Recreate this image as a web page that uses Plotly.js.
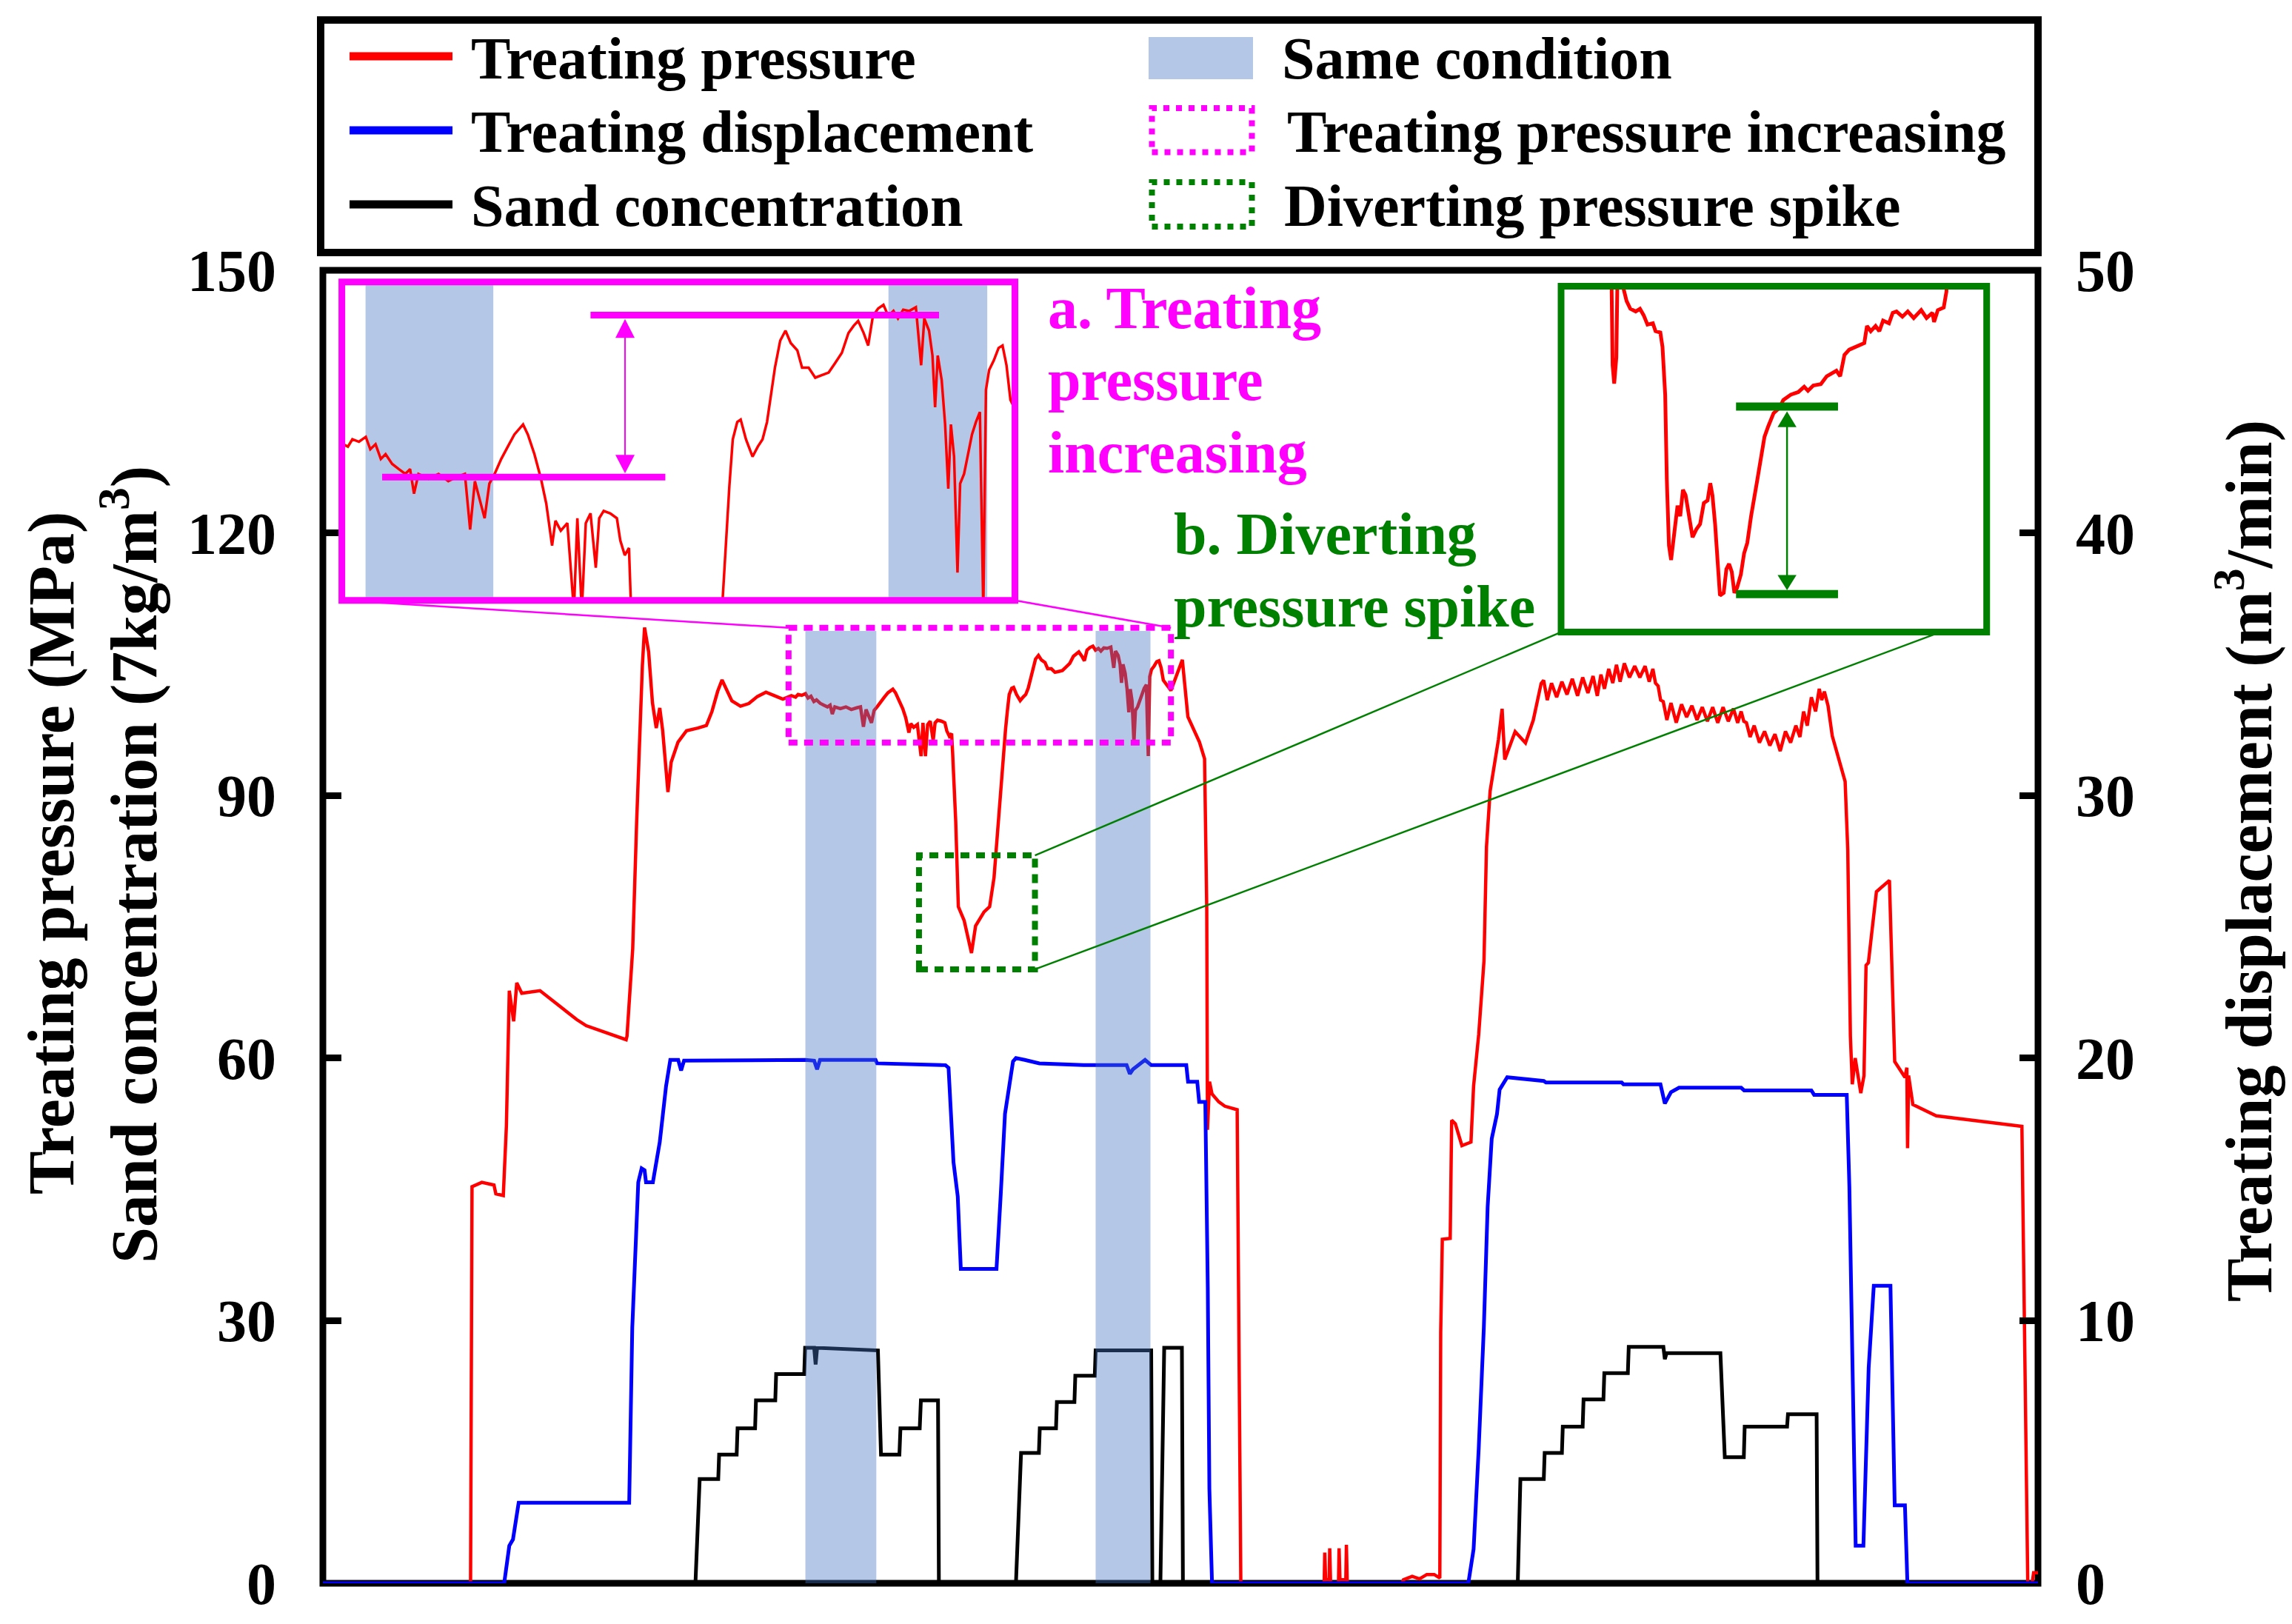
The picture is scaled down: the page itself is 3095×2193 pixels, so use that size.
<!DOCTYPE html>
<html>
<head>
<meta charset="utf-8">
<script src="https://cdn.plot.ly/plotly-3.0.1.min.js"></script>
<style>html,body{margin:0;padding:0;background:#fff;}#chart{width:3095px;height:2193px;}</style>
</head>
<body>
<div id="chart"></div>
<script>
// ---------------- DATA ----------------
// time axis is an arbitrary index (no labels in the original)
const pressureSeries = [ // [time, treating pressure MPa]
[0,0],[101,0],[102,45.3],[108.7,45.8],[117,45.5],[118.3,44.5],[123.4,44.3],[125.5,52.2],[127.5,67.7],[130.5,64.2],[132.6,68.6],[136,67.4],[148.5,67.7],[159,66.3],[173.6,64.4],[180.1,63.7],[207.4,62.1],[208,62.5],[211.9,72.5],[214.6,87],[216.5,96.7],[218.5,104.8],[220,109.2],[222.8,106.4],[225.4,100.6],[228,97.7],[230.4,100],[232.4,97.4],[236,90.4],[238.2,93.8],[242.9,96.1],[248.7,97.4],[256.5,97.7],[262.3,98],[266.1,99.6],[270,101.9],[273,103.2],[276.6,101.9],[279.7,100.8],[285.6,100.2],[291.3,100.5],[297.1,101.3],[303,101.8],[308.8,101.4],[314.6,101],[320.4,101.4],
[323.3,101.24],[325.0,101.54],[327.5,101.44],[330.1,101.64],[331.8,101.13],[333.8,101.34],[335.8,100.73],[337.6,100.93],[340.1,100.53],[342.6,100.32],[345.1,100.12],[346.9,100.32],[348.4,99.31],[350.1,100.12],[353.9,99.92],[357.7,100.12],[361.4,99.82],[365.2,100.02],[367.7,100.12],[369.7,97.84],[371.5,99.82],[375.2,98.3],[377.0,99.72],[379.0,100.12],[381.5,100.73],[384.0,101.24],[386.5,101.74],[389.8,102.15],[391.6,101.74],[394.1,100.93],[396.6,99.92],[398.6,98.9],[400.8,97.18],[402.1,98.2],[404.1,97.79],[406.6,98.1],[409.1,94.5],[410.4,98.3],[412.1,94.5],[413.6,98.1],[415.4,98.5],[417.4,96.27],[418.7,98.3],[420.4,98.6],[422.9,98.5],[425.4,98.3],[426.7,97.39],[428.4,96.78],[430.0,97.08],[430.7,94.85],
[432.8,87.1],[434.6,77.3],[438.6,75.7],[443.6,72],[446.4,75.1],[452.2,76.7],[456,77.3],[459,80.6],[462,87.1],[464.6,93.5],
[465.6,95.06],[466.9,97.59],[468.1,99.61],[469.4,101.54],[471.1,102.25],[472.4,102.35],[474.4,101.54],[476.9,100.83],[478.9,101.24],[480.7,101.54],[482.4,102.25],[483.9,103.36],[485.4,104.48],[487.4,105.59],[489.4,106.0],[491.4,105.49],[493.9,105.19],[495.7,104.48],[498.2,104.48],[500.7,104.07],[503.2,104.17],[505.8,104.28],[508.3,104.68],[510.8,105.09],[513.3,105.9],[515.3,106.2],[517.0,106.4],[519.1,105.9],[520.8,105.39],[522.6,106.61],[524.6,106.91],[526.6,107.06],[528.4,106.61],[530.4,106.81],[532.1,106.5],[534.1,106.86],[536.4,106.81],[538.9,106.96],[540.9,104.58],[542.1,106.5],[543.9,106.0],[545.2,104.98],[546.2,102.86],[547.2,104.98],[548.7,103.97],[550.0,102.15],[551.2,99.51],[552.2,102.15],[553.4,100.83],[554.7,96.07],[555.7,99.72],[557.2,100.12],[558.7,100.93],[560.2,101.74],[561.7,102.25],[563.2,102.66],[564.5,94.5],[565.5,103.57],[566.7,104.38],[568.5,104.78],[570.3,105.29],[571.8,105.39],[573.3,104.58],[574.8,103.16],
[580,102],[587.8,105.5],[591.6,99],[599.5,96.1],[603,94.2],[604.5,77],[605,51.8],[606.4,57.3],[608.1,55.9],[612.7,55],[616.9,54.5],[625.3,54.1],[627.8,0],
[684.8,0],[685.2,3.5],[685.8,0.4],[688.2,0.4],[688.6,4.0],[689.2,0],[694.6,0],[695,4.0],[695.6,0.4],[699.6,0.4],[700,4.4],[700.6,0],
[738,0],[739,0.4],[745,0.8],[750,0.5],[755,1.0],[760,1.0],[763.9,0.6],[764.5,28.7],[765.6,39.3],[771,39.4],[772,52.9],[774.5,52.5],[779,50],[785.2,50.4],[787,56.8],
[790.5,62.7],[794.1,71.1],[795.8,84.1],[798.3,90.5],[801.2,93.8],[804,96.4],[806.5,99.9],[808.3,94.1],[815.4,97.3],[822.5,96.0],[827.8,98.6],[833.2,102.8],
[834.9,103.16],[837.4,100.9],[840.3,102.84],[843.8,101.22],[847.4,103.0],[850.9,101.54],[854.5,103.32],[858.1,101.38],[861.6,103.49],[865.2,101.71],[868.7,103.65],[871.6,101.38],[874.1,103.81],[876.5,102.19],[879.4,104.46],[882.2,102.84],[884.7,104.94],[887.2,103.0],[890.1,105.1],[893.6,103.49],[897.2,104.78],[900.7,103.49],[904.3,104.78],[907.1,103.0],[909.6,104.46],[911.4,102.84],[913.2,102.51],[914.9,100.9],[916.7,100.73],[919.2,98.63],[922.0,100.57],[925.6,98.31],[929.2,100.41],[932.7,98.95],[936.3,100.25],[939.8,98.63],[943.4,100.09],[946.9,98.47],[950.5,100.09],[954.0,98.31],[957.6,100.09],[961.2,98.47],[964.7,99.92],[967.6,98.31],[970.0,99.6],[971.8,98.47],[973.6,98.31],[976.1,96.69],[978.9,97.98],[982.5,96.04],[986.0,97.33],[989.6,95.71],[993.1,97.01],[996.7,95.07],[1000.3,97.33],[1003.8,96.04],[1007.4,97.98],[1010.2,96.69],[1012.7,99.6],[1015.2,97.98],[1018.0,101.22],[1020.9,99.6],[1023.4,102.19],[1025.1,100.9],[1026.9,101.87],[1029.4,100.25],
[1032.3,96.8],[1037.6,93.5],[1041.1,91.6],[1042.9,83.8],[1044.7,62.5],[1046,57],[1048,60],[1051.8,56],[1054,58],[1055.4,70.6],[1057,70.9],[1062.5,79],[1071.4,80.3],[1073,70.9],[1075,59.6],[1082,57.8],[1083.3,58.9],[1083.8,49.7],[1084.5,58],[1087.4,54.7],[1103.4,53.4],[1162,52.2],[1166,0],[1169,0],[1170,1.2],[1173,1.2]
];

const displacementSeries = [ // [time, treating displacement m3/min]
[0,0],[124,0],[127.5,1.43],[130,1.67],[133.9,3.07],[209.5,3.07],[211.6,9.73],[215.7,15.27],[218,15.8],[220,15.73],[221,15.27],[225.7,15.27],[230.4,16.8],[234.7,18.93],[237.6,19.93],[243,19.93],[245,19.53],[247,19.9],[330,19.93],[336,19.9],[338,19.57],[340,19.93],[378,19.93],[379,19.8],[425.8,19.73],[427.9,19.63],[431.3,16.03],[434.2,14.73],[436.3,11.97],[460.7,11.97],[463.6,14.8],[466.5,17.87],[472,19.87],[474,20],[480,19.93],[490,19.8],[520.3,19.73],[549.7,19.73],[551.9,19.4],[554,19.57],[562.3,19.93],[566.5,19.73],[590.5,19.73],[591.7,19.1],[598,19.1],[599.3,18.33],[603.5,18.33],[605.2,11.27],[606.3,3.6],[608.1,0],
[783.4,0],[787,1.3],[790.5,5.13],[794,9.73],[796.6,14.33],[799.4,16.93],[803,17.87],[804.8,18.8],[810,19.27],[835,19.13],[836.5,19.07],[888.3,19.07],[889.5,19.0],[914.8,19.0],[917.8,18.27],[922,18.7],[927.5,18.87],[970,18.87],[972,18.77],[1018,18.77],[1019.9,18.6],[1042.2,18.6],[1044,15.1],[1046.6,6.67],[1048.3,1.43],[1053.6,1.43],[1057.2,8.2],[1060.7,11.33],[1072.1,11.33],[1075,2.97],[1082,2.97],[1083.7,0],[1173,0]
];

const sandSeries = [ // [time, sand concentration 7kg/m3]
[0,0],[254.8,0],[257.7,11.9],[270.4,11.9],[271,14.7],[283,14.7],[283.6,17.7],[295.6,17.7],[296.2,20.9],[309.4,20.9],[310,23.9],[329.2,23.9],[329.8,26.9],[336,26.9],[337,25],[338,26.9],[379.6,26.6],[380.5,20],[381.7,14.7],[394.3,14.7],[395,17.7],[408.2,17.7],[409,20.9],[420.7,20.9],[421.3,0],
[474,0],[477.5,14.9],[489.7,14.9],[490.3,17.7],[501.4,17.7],[502,20.7],[514,20.7],[514.6,23.7],[527.9,23.7],[528.5,26.6],[566.5,26.6],[567.3,0],[572.8,0],[575.4,26.9],[587.5,26.9],[588.2,0],
[817.2,0],[819,11.9],[835,11.9],[835.6,14.9],[847.4,14.9],[848,17.9],[861.6,17.9],[862.2,21],[875.8,21],[876.4,24],[892.5,24],[893.1,27],[916.8,27],[917.8,25.6],[919,26.3],[955.8,26.3],[958.8,14.4],[971.8,14.4],[972.4,17.9],[1001.4,17.9],[1002,19.3],[1021.6,19.3],[1022.2,0],[1173,0]
];

// zoomed view b (diverting pressure spike), as drawn in its inset
const spikeInsetSeries = [
[415,85],[417.0,85],[417.3,80.2],[417.6,79.5],[418.0,80.5],[418.3,85],[419.1,83.3],[419.9,82.64],[420.6,82.34],[421.6,82.24],[422.4,82.34],[423.1,82.09],[423.8,81.74],[424.8,81.79],[425.3,81.49],[426.2,81.44],[426.6,80.89],[427.1,79.08],[427.4,75.87],[427.8,73.36],[428.2,72.81],[428.7,73.67],[429.4,74.87],[429.9,74.47],[430.4,75.47],[430.9,75.27],[431.6,74.47],[432.2,73.67],[432.9,73.97],[433.6,74.17],[434.3,74.97],[435.0,75.07],[435.5,75.72],[435.9,75.27],[436.4,74.17],[436.9,72.76],[437.3,71.46],[438.0,71.56],[438.5,72.46],[439.0,72.66],[439.5,72.36],[440.0,71.56],[440.5,71.76],[441.2,72.26],[441.8,73.06],[442.4,73.46],[443.1,74.47],[444.2,75.77],[445.0,76.88],[445.6,77.48],[446.3,77.88],[447.3,78.38],[448.4,78.58],[449.1,78.88],[450.5,79.08],[451.9,79.18],[453.0,79.38],[453.7,79.23],[454.7,79.43],[456.1,79.48],[457.2,79.78],[458.2,79.89],[459.0,79.99],[459.7,79.78],[460.5,80.59],[461.4,80.79],[462.5,80.89],[463.5,80.99],[464.2,81.04],[464.7,81.69],[465.4,81.49],[466.3,81.69],[467.0,81.49],[467.7,81.89],[468.8,81.79],[469.5,82.19],[470.2,82.24],[471.3,82.04],[472.3,82.24],[473.4,81.99],[474.8,82.29],[475.8,81.99],[476.9,82.19],[477.2,81.84],[477.9,82.29],[479.0,82.39],[479.5,82.99],[479.8,85],[481,86]
];

const sameConditionStart = [330, 528.5];
const sameConditionEnd = [378.5, 566];
const leftTicks = [0, 30, 60, 90, 120, 150];
const rightTicks = [0, 10, 20, 30, 40, 50];

// annotation levels inside the zoom insets (MPa)
const increaseLevels = {low: 99.99, high: 106.64};
const spikeLevels = {low: 71.51, high: 78.63};

// ---------------- LAYOUT HELPERS ----------------
const W = 3095, H = 2193, L = 436, R = 2752, T = 365, B = 2138;
const px = X => (X - L) / (R - L);
const py = Y => (B - Y) / (B - T);
const FONT = 'Liberation Serif, Times New Roman, serif';
const MAG = '#FF00FF', GRN = '#008000';
const col = (arr, i) => arr.map(d => d[i]);

const traces = [
  {x: col(pressureSeries,0), y: col(pressureSeries,1), xaxis:'x', yaxis:'y', mode:'lines', line:{color:'#FF0000', width:4.5}, name:'Treating pressure'},
  {x: col(sandSeries,0), y: col(sandSeries,1), xaxis:'x', yaxis:'y', mode:'lines', line:{color:'#000000', width:5}, name:'Sand concentration'},
  {x: col(displacementSeries,0), y: col(displacementSeries,1), xaxis:'x', yaxis:'y2', mode:'lines', line:{color:'#0000FF', width:5}, name:'Treating displacement'},
  {x: col(pressureSeries,0), y: col(pressureSeries,1), xaxis:'x3', yaxis:'y3', mode:'lines', line:{color:'#FF0000', width:3.5}, showlegend:false},
  {x: col(spikeInsetSeries,0), y: col(spikeInsetSeries,1), xaxis:'x4', yaxis:'y4', mode:'lines', line:{color:'#FF0000', width:5}, showlegend:false}
];

const insetA = {x:[461.6, 1370.5], y:[380.7, 810.7], xr:[321, 576.5], yr:[94.93, 108.0]};
const insetB = {x:[2108, 2682.7], y:[386.4, 853.6], xr:[407.7, 487], yr:[70.07, 83.2]};

const shapes = [];
// plot frame
shapes.push({type:'rect', xref:'paper', yref:'paper', x0:0, x1:1, y0:0, y1:1, line:{color:'#000', width:9}, layer:'below'});
// same-condition bands (main: translucent overlay; insets: solid underlay)
for (let i = 0; i < sameConditionStart.length; i++) {
  shapes.push({type:'rect', xref:'x', yref:'y', x0:sameConditionStart[i], x1:sameConditionEnd[i], y0:0, y1:108.8,
    fillcolor:'#4472C4', opacity:0.4, line:{width:0}, layer:'above'});
  shapes.push({type:'rect', xref:'x3', yref:'y3', x0:sameConditionStart[i], x1:sameConditionEnd[i], y0:insetA.yr[0], y1:insetA.yr[1],
    fillcolor:'#B4C7E7', line:{width:0}, layer:'below'});
}
// dotted highlight boxes on main chart
shapes.push({type:'rect', xref:'x', yref:'y', x0:318.5, x1:580, y0:96.04, y1:109.15, line:{color:MAG, width:8, dash:'12px,9px'}, layer:'above'});
shapes.push({type:'rect', xref:'x', yref:'y', x0:407.7, x1:487, y0:70.14, y1:83.16, line:{color:GRN, width:8, dash:'12px,9px'}, layer:'above'});
// connector lines
shapes.push({type:'line', xref:'x', yref:'y', x0:12.97, y0:112.29, x1:318.5, y1:109.15, line:{color:MAG, width:2.5}});
shapes.push({type:'line', xref:'x', yref:'y', x0:473.3, y0:112.29, x1:580, y1:109.15, line:{color:MAG, width:2.5}});
shapes.push({type:'line', xref:'x', yref:'y', x0:846.8, y0:108.66, x1:487, y1:83.16, line:{color:GRN, width:2.5}});
shapes.push({type:'line', xref:'x', yref:'y', x0:1106.2, y0:108.66, x1:487, y1:70.14, line:{color:GRN, width:2.5}});
// inset frames
shapes.push({type:'rect', xref:'paper', yref:'paper', x0:px(insetA.x[0]), x1:px(insetA.x[1]), y0:py(insetA.y[1]), y1:py(insetA.y[0]), line:{color:MAG, width:9}, layer:'above'});
shapes.push({type:'rect', xref:'paper', yref:'paper', x0:px(insetB.x[0]), x1:px(insetB.x[1]), y0:py(insetB.y[1]), y1:py(insetB.y[0]), line:{color:GRN, width:9}, layer:'above'});
// inset a markers
shapes.push({type:'line', xref:'x3', yref:'y3', x0:415.4, x1:547.7, y0:increaseLevels.high, y1:increaseLevels.high, line:{color:MAG, width:9}, layer:'above'});
shapes.push({type:'line', xref:'x3', yref:'y3', x0:336.3, x1:443.8, y0:increaseLevels.low, y1:increaseLevels.low, line:{color:MAG, width:9}, layer:'above'});
shapes.push({type:'line', xref:'x3', yref:'y3', x0:428.5, x1:428.5, y0:106.0, y1:100.5, line:{color:MAG, width:2}, layer:'above'});
shapes.push({type:'path', xref:'x3', yref:'y3', path:'M428.5,106.48 L424.85,105.7 L432.15,105.7 Z', fillcolor:MAG, line:{width:0}, layer:'above'});
shapes.push({type:'path', xref:'x3', yref:'y3', path:'M428.5,100.14 L424.85,100.9 L432.15,100.9 Z', fillcolor:MAG, line:{width:0}, layer:'above'});
// inset b markers
shapes.push({type:'line', xref:'x4', yref:'y4', x0:440.3, x1:459.3, y0:spikeLevels.high, y1:spikeLevels.high, line:{color:GRN, width:11}, layer:'above'});
shapes.push({type:'line', xref:'x4', yref:'y4', x0:440.3, x1:459.3, y0:spikeLevels.low, y1:spikeLevels.low, line:{color:GRN, width:11}, layer:'above'});
shapes.push({type:'line', xref:'x4', yref:'y4', x0:449.8, x1:449.8, y0:78.0, y1:72.0, line:{color:GRN, width:2.5}, layer:'above'});
shapes.push({type:'path', xref:'x4', yref:'y4', path:'M449.8,78.45 L448.04,77.85 L451.56,77.85 Z', fillcolor:GRN, line:{width:0}, layer:'above'});
shapes.push({type:'path', xref:'x4', yref:'y4', path:'M449.8,71.66 L448.04,72.24 L451.56,72.24 Z', fillcolor:GRN, line:{width:0}, layer:'above'});

// legend box and symbols
shapes.push({type:'rect', xref:'paper', yref:'paper', x0:px(433), x1:px(2752), y0:py(341), y1:py(27), line:{color:'#000', width:10}});
[['#FF0000',76],['#0000FF',176],['#000000',276]].forEach(([c,Y]) => {
  shapes.push({type:'line', xref:'paper', yref:'paper', x0:px(472), x1:px(611), y0:py(Y), y1:py(Y), line:{color:c, width:11}});
});
shapes.push({type:'rect', xref:'paper', yref:'paper', x0:px(1551), x1:px(1692), y0:py(107), y1:py(50), fillcolor:'#B4C7E7', line:{width:0}});
shapes.push({type:'rect', xref:'paper', yref:'paper', x0:px(1555.5), x1:px(1690.5), y0:py(205.5), y1:py(146), line:{color:MAG, width:8, dash:'8px,9px'}});
shapes.push({type:'rect', xref:'paper', yref:'paper', x0:px(1555.5), x1:px(1690.5), y0:py(306), y1:py(246), line:{color:GRN, width:8, dash:'8px,9px'}});

const ann = (text, X, Y, opts) => Object.assign({text, xref:'paper', yref:'paper', x:px(X), y:py(Y), showarrow:false,
  xanchor:'left', yanchor:'middle', font:{family:FONT, size:80, weight:'bold', color:'#000'}}, opts || {});

const annotations = [
  ann('Treating pressure', 634, 79),
  ann('Treating displacement', 634, 178),
  ann('Sand concentration', 634, 278),
  ann('Same condition', 1729, 79),
  ann('Treating pressure increasing', 1736, 178),
  ann('Diverting pressure spike', 1732, 278),
  ann('a. Treating', 1413, 416, {font:{family:FONT, size:80, weight:'bold', color:MAG}}),
  ann('pressure', 1413, 513, {font:{family:FONT, size:80, weight:'bold', color:MAG}}),
  ann('increasing', 1413, 611, {font:{family:FONT, size:80, weight:'bold', color:MAG}}),
  ann('b. Diverting', 1583, 721, {font:{family:FONT, size:80, weight:'bold', color:GRN}}),
  ann('pressure spike', 1583, 819, {font:{family:FONT, size:80, weight:'bold', color:GRN}}),
  ann('Treating pressure (MPa)', 69, 1152, {xanchor:'center', textangle:-90, font:{family:FONT, size:88, weight:'bold', color:'#000'}}),
  ann('Sand concentration (7kg/m<sup>3</sup>)', 174, 1168, {xanchor:'center', textangle:-90, font:{family:FONT, size:88, weight:'bold', color:'#000'}}),
  ann('Treating displacement (m<sup>3</sup>/min)', 3030, 1163, {xanchor:'center', textangle:-90, font:{family:FONT, size:88, weight:'bold', color:'#000'}})
];

const tickFont = {family:FONT, size:80, weight:'bold', color:'#000'};
const layout = {
  width: W, height: H,
  margin: {l: L, r: W - R, t: T, b: H - B, pad: 0},
  paper_bgcolor: '#fff', plot_bgcolor: '#fff',
  showlegend: false,
  font: {family: FONT},
  xaxis: {domain:[0,1], range:[0,1173], showticklabels:false, ticks:'', showgrid:false, zeroline:false, showline:false, anchor:'y'},
  yaxis: {range:[0,150], tickmode:'array', tickvals:leftTicks, ticktext:leftTicks.map(String), ticks:'inside', ticklen:25, tickwidth:9, tickcolor:'#000',
          tickfont:tickFont, showgrid:false, zeroline:false, showline:false, ticklabelstandoff:62, anchor:'x'},
  yaxis2: {range:[0,50], overlaying:'y', side:'right', tickmode:'array', tickvals:rightTicks, ticktext:rightTicks.map(String), ticks:'inside', ticklen:25, tickwidth:9,
           tickcolor:'#000', tickfont:tickFont, showgrid:false, zeroline:false, showline:false, ticklabelstandoff:50, anchor:'x'},
  xaxis3: {domain:[px(insetA.x[0]), px(insetA.x[1])], range:insetA.xr, visible:false, anchor:'y3'},
  yaxis3: {domain:[py(insetA.y[1]), py(insetA.y[0])], range:insetA.yr, visible:false, anchor:'x3'},
  xaxis4: {domain:[px(insetB.x[0]), px(insetB.x[1])], range:insetB.xr, visible:false, anchor:'y4'},
  yaxis4: {domain:[py(insetB.y[1]), py(insetB.y[0])], range:insetB.yr, visible:false, anchor:'x4'},
  shapes, annotations
};

Plotly.newPlot('chart', traces, layout, {displayModeBar:false, staticPlot:true});
</script>
</body>
</html>
